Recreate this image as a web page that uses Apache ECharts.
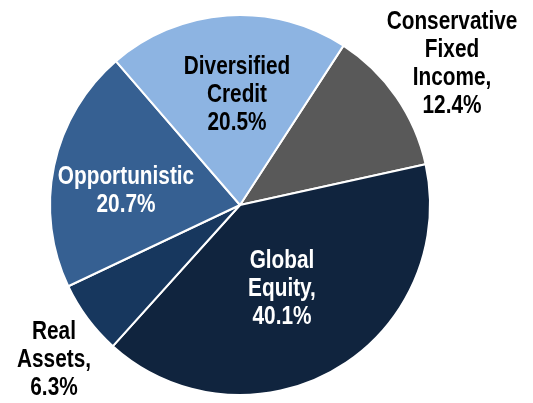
<!DOCTYPE html>
<html>
<head>
<meta charset="utf-8">
<script src="https://cdn.jsdelivr.net/npm/echarts@6/dist/echarts.min.js"></script>
<style>
html,body{margin:0;padding:0;background:#fff;}
#chart{width:533px;height:403px;}
</style>
</head>
<body>
<div id="chart"></div>
<script>
// ---- data ----
const categories = ['Conservative Fixed Income', 'Global Equity', 'Real Assets', 'Opportunistic', 'Diversified Credit'];
const values = [12.4, 40.1, 6.3, 20.7, 20.5];
const labelLines = [
  ['Conservative', 'Fixed', 'Income,'],
  ['Global', 'Equity,'],
  ['Real', 'Assets,'],
  ['Opportunistic'],
  ['Diversified', 'Credit']
];
const sliceColors = ['#595959', '#10243E', '#17375E', '#366092', '#8DB4E2'];
const labelColors = ['#000000', '#ffffff', '#000000', '#ffffff', '#000000'];
// label anchor positions (pixels, block centre)
const labelPos = [[452, 64], [282, 289], [54, 360], [126, 191], [237, 95]];

const chart = echarts.init(document.getElementById('chart'), null, {renderer: 'canvas'});

function labelText(i) {
  return labelLines[i].join('\n') + '\n' + values[i].toFixed(1) + '%';
}

chart.setOption({
  animation: false,
  backgroundColor: '#ffffff',
  series: [{
    type: 'pie',
    center: [240, 205],
    radius: 190,
    startAngle: 57,
    clockwise: true,
    avoidLabelOverlap: false,
    itemStyle: {borderColor: '#ffffff', borderWidth: 2},
    labelLine: {show: false},
    label: {show: false},
    emphasis: {disabled: true},
    data: categories.map(function (c, i) {
      return {name: c, value: values[i], itemStyle: {color: sliceColors[i]}};
    })
  }],
  graphic: categories.map(function (c, i) {
    return {
      type: 'text',
      x: labelPos[i][0],
      y: labelPos[i][1],
      scaleX: 0.8,
      z: 100,
      silent: true,
      style: {
        text: labelText(i),
        fill: labelColors[i],
        fontFamily: '"Liberation Sans", Arial, sans-serif',
        fontWeight: 'bold',
        fontSize: 26,
        lineHeight: 28,
        align: 'center',
        verticalAlign: 'middle'
      }
    };
  })
});
</script>
</body>
</html>
